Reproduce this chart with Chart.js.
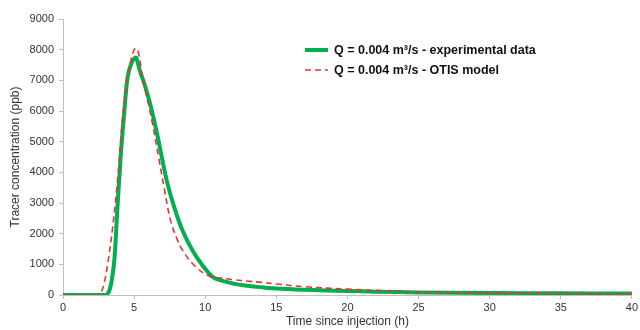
<!DOCTYPE html>
<html lang="en">
<head>
  <meta charset="UTF-8">
  <title>Tracer concentration</title>
  <script src="https://cdn.jsdelivr.net/npm/chart.js"></script>
  <style>
    body { margin: 0; background: #fff; }
  </style>
</head>
<body>
  <canvas id="grafico" width="640" height="330"></canvas>

  <script>
    // Experimental data (h, ppb)
    const expHours = [0, 2.9, 3.1, 3.3, 3.5, 3.63, 3.75, 3.86, 4.0, 4.09, 4.32, 4.55, 4.8, 5.03, 5.15, 5.4, 5.71, 6.18, 6.64, 6.99, 7.34, 7.81, 8.39, 9.09, 9.79, 10.49, 10.96, 12, 13, 14, 15, 17, 20, 22, 25, 30, 35, 40];
    const expValues = [0, 0, 20, 200, 700, 1250, 2200, 3100, 4100, 4730, 6030, 7120, 7550, 7720, 7740, 7320, 6900, 6140, 5200, 4400, 3640, 2880, 2120, 1470, 980, 600, 490, 370, 300, 250, 210, 170, 130, 110, 85, 65, 55, 50];

    // OTIS model (h, ppb)
    const otisHours = [0, 2.4, 2.69, 2.9, 3.15, 3.5, 3.86, 4.2, 4.55, 4.8, 5.0, 5.13, 5.3, 5.59, 5.9, 6.29, 6.76, 7.11, 7.58, 8.0, 8.39, 9.33, 10.26, 10.96, 12, 13, 14, 15, 17, 20, 22, 25, 28, 30, 35, 40];
    const otisValues = [0, 0, 110, 400, 1030, 2230, 3860, 5810, 7120, 7700, 7990, 8050, 7900, 7120, 6450, 5600, 4400, 3500, 2400, 1850, 1470, 920, 620, 560, 500, 450, 410, 360, 270, 190, 150, 100, 80, 70, 45, 30];

    const xTicks = [0, 5, 10, 15, 20, 25, 30, 35, 40];
    const yTicks = [0, 1000, 2000, 3000, 4000, 5000, 6000, 7000, 8000, 9000];

    const legendLabels = ['Q = 0.004 m\u00b3/s - experimental data', 'Q = 0.004 m\u00b3/s - OTIS model'];

    const verde = '#00b050';
    const vermelho = '#f03030';
    const cinza = '#bfbfbf';
    const texto = '#333333';
    const fonte = "'Liberation Sans', Arial, sans-serif";

    const toPoints = (xs, ys) => xs.map((x, i) => ({ x: x, y: ys[i] }));

    // legend drawn as lines + bold text, like the original
    const legendaPlugin = {
      id: 'legenda',
      afterDraw(chart) {
        const ctx = chart.ctx;
        const itens = [
          { cor: verde, largura: 4, dash: [] },
          { cor: vermelho, largura: 1.6, dash: [6, 4] }
        ];
        ctx.save();
        ctx.font = 'bold 12.5px ' + fonte;
        ctx.textBaseline = 'middle';
        itens.forEach((item, i) => {
          const y = 50 + i * 20;
          ctx.beginPath();
          ctx.strokeStyle = item.cor;
          ctx.lineWidth = item.largura;
          ctx.setLineDash(item.dash);
          ctx.moveTo(305, y);
          ctx.lineTo(328, y);
          ctx.stroke();
          ctx.setLineDash([]);
          ctx.fillStyle = '#111';
          ctx.fillText(legendLabels[i], 334, y + 1);
        });
        ctx.restore();
      }
    };

    const ctx = document.getElementById('grafico').getContext('2d');
    new Chart(ctx, {
      type: 'line',
      data: {
        datasets: [
          {
            label: legendLabels[1],
            data: toPoints(otisHours, otisValues),
            borderColor: vermelho,
            borderWidth: 1.6,
            borderDash: [6, 4],
            pointRadius: 0,
            tension: 0.4,
            fill: false,
            order: 0
          },
          {
            label: legendLabels[0],
            data: toPoints(expHours, expValues),
            borderColor: verde,
            borderWidth: 4,
            pointRadius: 0,
            tension: 0.4,
            fill: false,
            order: 1
          }
        ]
      },
      options: {
        responsive: false,
        animation: false,
        layout: { padding: { top: 19, right: 6, left: 0, bottom: 0 } },
        plugins: {
          legend: { display: false },
          tooltip: { enabled: false }
        },
        scales: {
          x: {
            type: 'linear',
            min: 0,
            max: 40,
            afterFit: s => { s.height = 35; },
            afterBuildTicks: s => { s.ticks = xTicks.map(v => ({ value: v })); },
            ticks: { color: texto, font: { size: 11, family: fonte }, padding: 2, maxRotation: 0, callback: v => String(v) },
            grid: { display: true, drawOnChartArea: false, tickLength: 4, color: cinza },
            border: { color: cinza },
            title: {
              display: true,
              text: 'Time since injection (h)',
              color: texto,
              font: { size: 12, family: fonte },
              padding: { top: 0, bottom: 1 }
            }
          },
          y: {
            min: 0,
            max: 9000,
            afterFit: s => { s.width = 63; },
            afterBuildTicks: s => { s.ticks = yTicks.map(v => ({ value: v })); },
            ticks: { color: texto, font: { size: 11, family: fonte }, padding: 5, callback: v => String(v) },
            grid: { display: true, drawOnChartArea: false, tickLength: 4, color: cinza },
            border: { color: cinza },
            title: {
              display: true,
              text: 'Tracer concentration (ppb)',
              color: texto,
              font: { size: 12, family: fonte },
              padding: { top: 8, bottom: 0 }
            }
          }
        }
      },
      plugins: [legendaPlugin]
    });
  </script>
</body>
</html>
